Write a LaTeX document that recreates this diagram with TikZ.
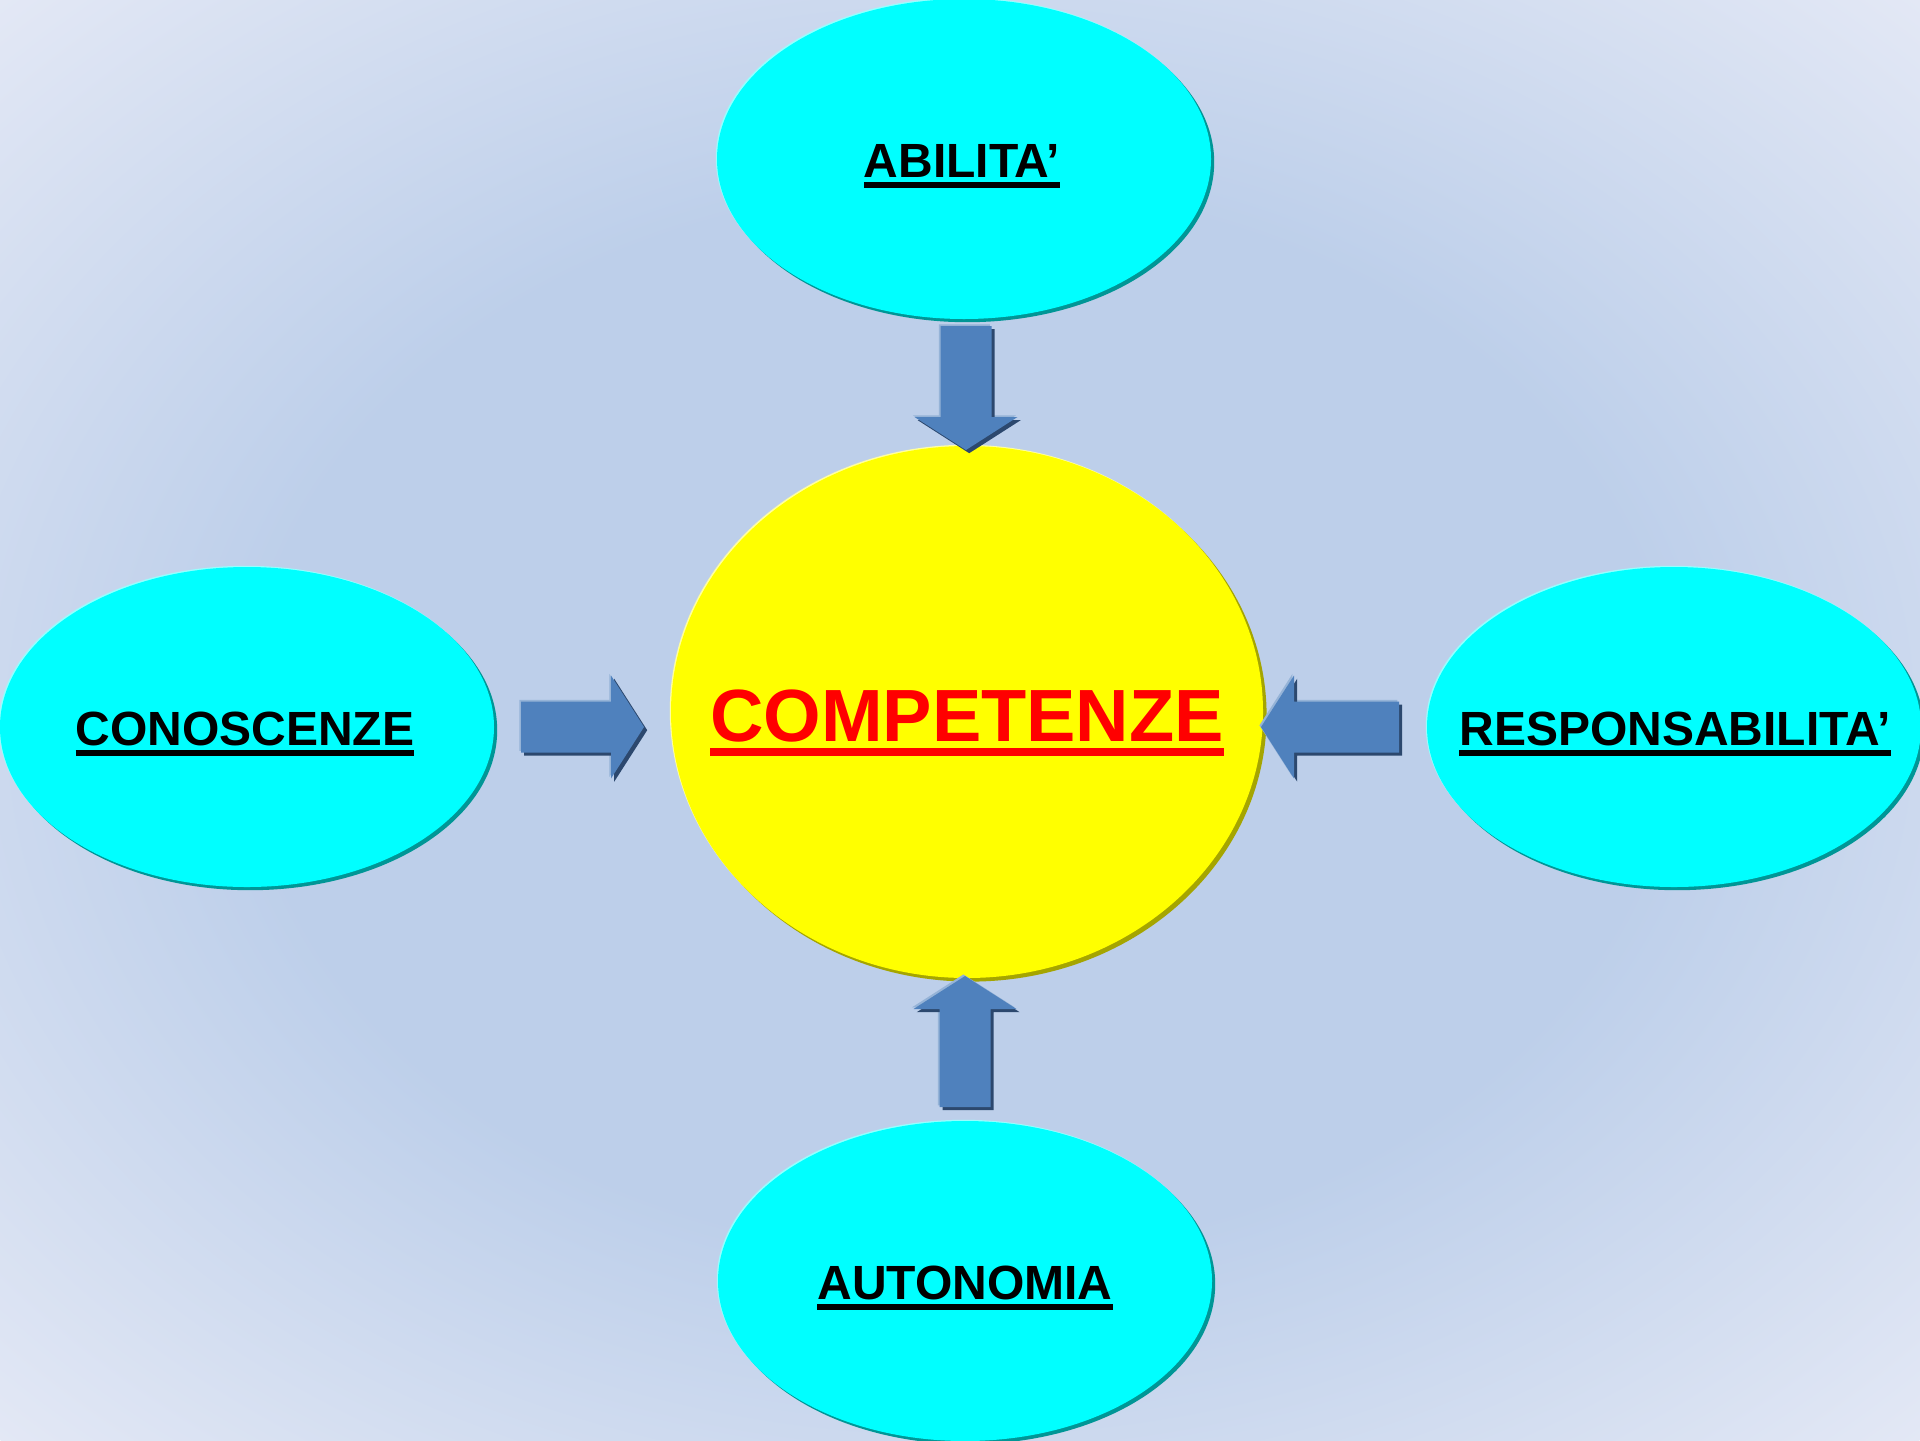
\documentclass[tikz,border=0pt]{standalone}
\usepackage{fontspec}
\setmainfont{Liberation Sans}
\usetikzlibrary{shapes.geometric,shadows}

% palette
\definecolor{bgmid}{RGB}{189,207,234}
\definecolor{bgedge}{RGB}{227,232,245}
\definecolor{bubble}{RGB}{0,255,255}
\definecolor{bubbleshade}{RGB}{0,150,150}
\definecolor{bubblelight}{RGB}{150,255,255}
\definecolor{core}{RGB}{255,255,0}
\definecolor{coreshade}{RGB}{165,165,0}
\definecolor{corelight}{RGB}{255,255,160}
\definecolor{arrowfill}{RGB}{79,129,189}
\definecolor{arrowshade}{RGB}{44,72,110}
\definecolor{arrowlight}{RGB}{149,179,215}
\definecolor{corered}{RGB}{255,0,0}

% soft glow of the slide background
\pgfdeclareradialshading{bgglow}{\pgfpoint{0bp}{0bp}}{%
  color(0bp)=(bgmid); color(13bp)=(bgmid); color(25bp)=(bgedge); color(50bp)=(bgedge)}

% underlined word: #1 text, #2 drop of the bar's bottom, #3 bar thickness
\newcommand\ulword[3]{\setbox0\hbox{#1}\rlap{\rule[-#2]{\wd0}{#3}}\box0}

% block arrow: #1 tip coordinate, #2 direction, #3 total length
\newcommand\blockarrow[3]{%
  \foreach \dx/\dy/\col in {-0.8/0.8/arrowlight, 1.6/-1.6/arrowshade, 0/0/arrowfill}{
    \fill[\col, shift={(#1)}, xshift=\dx pt, yshift=\dy pt, rotate=#2]
      (0,0) -- (-33,51.5) -- (-33,25.5) -- (-#3,25.5) -- (-#3,-25.5)
      -- (-33,-25.5) -- (-33,-51.5) -- cycle;
  }}

\begin{document}
\begin{tikzpicture}[x=0.5pt,y=-0.5pt,
  bubblenode/.style={ellipse, inner sep=0pt, fill=bubble,
    minimum width=247pt, minimum height=160pt,
    general shadow={fill=bubblelight, shadow xshift=-0.6pt, shadow yshift=0.6pt},
    general shadow={fill=bubbleshade, shadow xshift=1.6pt, shadow yshift=-1.6pt}},
  corenode/.style={ellipse, inner sep=0pt, fill=core,
    minimum width=296pt, minimum height=266pt,
    general shadow={fill=corelight, shadow xshift=-0.6pt, shadow yshift=0.6pt},
    general shadow={fill=coreshade, shadow xshift=1.8pt, shadow yshift=-1.8pt}},
  lbl/.style={inner sep=0pt, anchor=base,
    font=\bfseries\fontsize{24}{28}\selectfont},
  corelbl/.style={inner sep=0pt, anchor=base, text=corered,
    font=\bfseries\fontsize{37}{42}\selectfont}]

\useasboundingbox (0,0) rectangle (1920,1440);

% background
\begin{scope}
  \clip (0,0) rectangle (1920,1440);
  \shade[shading=bgglow] (960,720) ellipse [x radius=1358, y radius=1018];
\end{scope}

% outer ideas and the central concept
\node[bubblenode] (abil) at (964,159) {};
\node[bubblenode] (cono) at (247,727) {};
\node[bubblenode] (resp) at (1674,727) {};
\node[bubblenode] (auto) at (965,1281) {};
\node[corenode]   (comp) at (967,712) {};

% labels
\node[lbl] (tabil) at (962,177)  {\ulword{ABILITA’}{5.3pt}{2.8pt}};
\node[lbl] (tcono) at (245,745)  {\ulword{CONOSCENZE}{5.3pt}{2.8pt}};
\node[lbl] (tresp) at (1675,745) {\ulword{RESPONSABILITA’}{5.3pt}{2.8pt}};
\node[lbl] (tauto) at (965,1299) {\ulword{AUTONOMIA}{5.3pt}{2.8pt}};
\node[corelbl] (tcomp) at (967,741) {\ulword{COMPETENZE}{7.5pt}{4pt}};

% arrow tips, all pointing at the central concept
\coordinate (tipN) at (966,450);
\coordinate (tipS) at (965,976);
\coordinate (tipW) at (644,727);
\coordinate (tipE) at (1261,727);

\blockarrow{tipN}{-90}{124}
\blockarrow{tipS}{90}{131}
\blockarrow{tipW}{0}{123}
\blockarrow{tipE}{180}{138}
\end{tikzpicture}
\end{document}
